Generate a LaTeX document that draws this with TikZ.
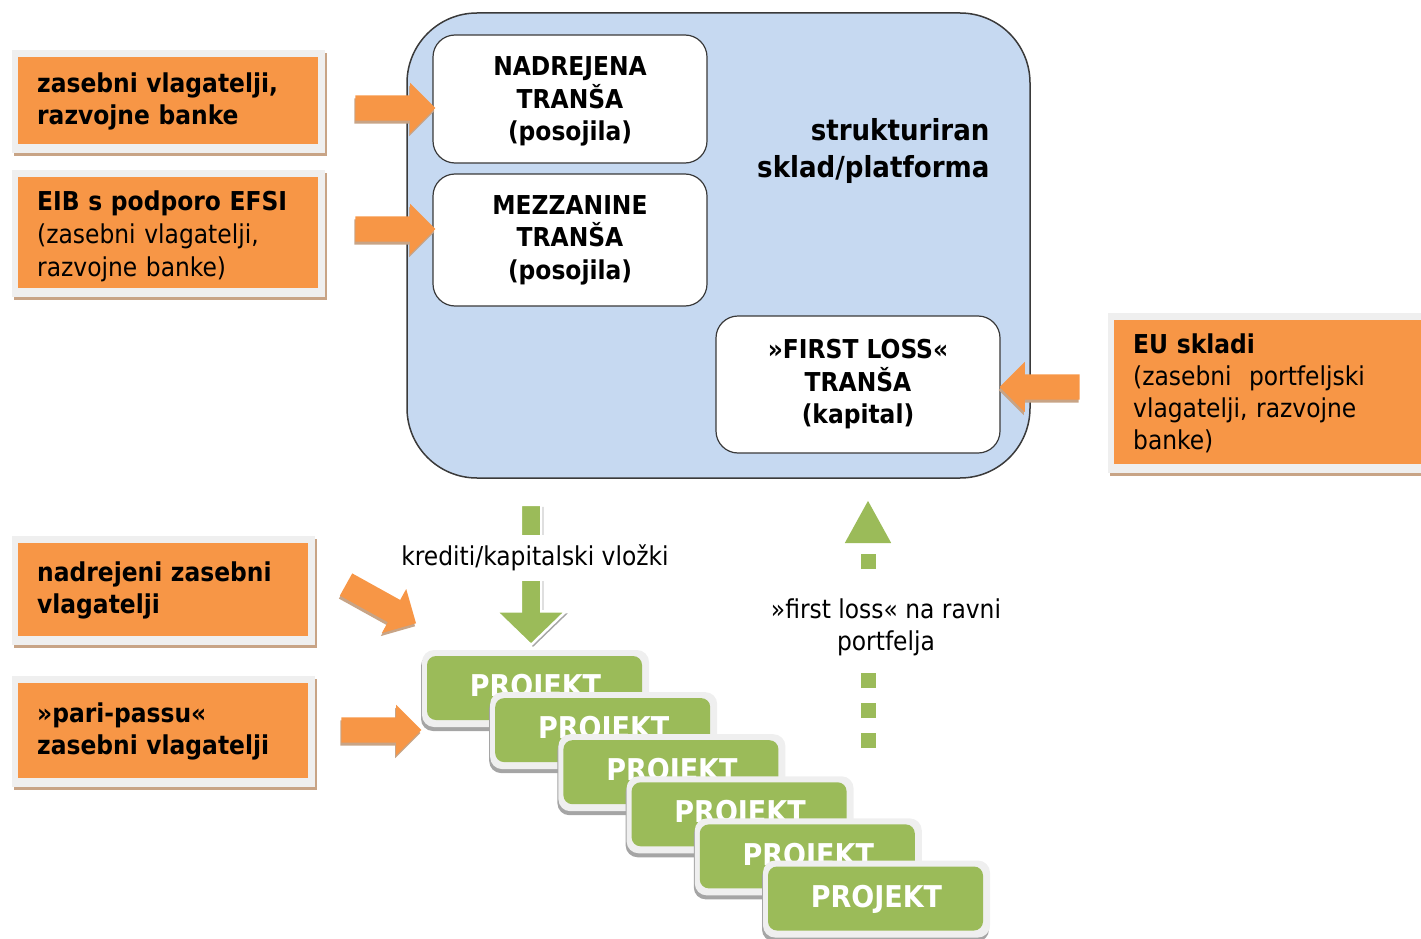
\documentclass[tikz,border=0pt]{standalone}
\usepackage{fontspec}
\setmainfont{DejaVuSansCondensed}[Extension=.ttf, BoldFont=DejaVuSansCondensed-Bold]
\usetikzlibrary{shapes.arrows,shadows,arrows.meta}
\definecolor{orC}{HTML}{F79646}
\definecolor{frameC}{HTML}{EFEFEF}
\definecolor{tanC}{HTML}{C8A486}
\definecolor{blueC}{HTML}{C6D9F1}
\definecolor{greenC}{HTML}{9BBB59}
\definecolor{pshadowC}{HTML}{A5A5A5}
\definecolor{edgeC}{HTML}{3A3A3A}
\newcommand\fsz[2]{\fontsize{#1}{#2}\selectfont}
\tikzset{
  obox/.style={rectangle, fill=frameC, inner xsep=25pt, inner ysep=0pt, anchor=north west,
    align=left, font=\fsz{26}{32},
    drop shadow={opacity=1, fill=tanC, shadow xshift=2pt, shadow yshift=-3pt},
    path picture={\fill[orC] ([shift={(6pt,9pt)}]path picture bounding box.south west)
      rectangle ([shift={(-7pt,-7pt)}]path picture bounding box.north east);}},
  tbox/.style={rectangle, rounded corners=22pt, fill=white, draw=edgeC, line width=1.2pt,
    align=center, font=\bfseries\fsz{26}{32.5}},
  bigbox/.style={rectangle, rounded corners=70pt, fill=blueC, draw=edgeC, line width=1.5pt},
  pbox/.style={rectangle, rounded corners=12pt, fill=frameC, minimum width=227pt, minimum height=77pt,
    text=white, font=\bfseries\fsz{30}{36},
    drop shadow={opacity=1, fill=pshadowC, shadow xshift=-1pt, shadow yshift=-4pt},
    path picture={\fill[greenC, rounded corners=9pt] ([shift={(5pt,7pt)}]path picture bounding box.south west)
      rectangle ([shift={(-7pt,-6pt)}]path picture bounding box.north east);}},
  oarrow/.style={single arrow, fill=orC, inner xsep=0pt, inner ysep=12.5pt, minimum height=80pt,
    single arrow head extend=12.5pt, single arrow tip angle=90,
    drop shadow={opacity=1, fill=tanC, shadow xshift=-1pt, shadow yshift=-3pt}},
  garrow/.style={single arrow, fill=greenC, draw=white, line width=2.5pt, inner xsep=0pt, inner ysep=9pt,
    minimum height=140pt, single arrow head extend=24.5pt, single arrow tip angle=92,
    drop shadow={opacity=1, fill=pshadowC, shadow xshift=2pt, shadow yshift=-2pt}},
  dots/.style={greenC, line width=15pt, dash pattern=on 15pt off 15pt},
}
\begin{document}
\begin{tikzpicture}[x=1pt,y=-1pt]
\useasboundingbox (0,0) rectangle (1421,939);

% platform
\node[bigbox, minimum width=623pt, minimum height=465pt] (plat) at (718.5,245.5) {};
\node[tbox, minimum width=274pt, minimum height=128pt] (nad) at (570,99) {\rule{0pt}{24pt}NADREJENA\\TRANŠA\\(posojila)};
\node[tbox, minimum width=274pt, minimum height=132pt] (mez) at (570,240) {MEZZANINE\\TRANŠA\\(posojila)};
\node[tbox, minimum width=284pt, minimum height=137pt] (fl) at (858,384.5) {»FIRST LOSS«\\TRANŠA\\(kapital)};
\node[anchor=east, align=right, font=\bfseries\fsz{29}{36}] (lbl) at (993,151) {strukturiran\\sklad/platforma};

% orange source boxes
\node[obox, minimum width=313pt, minimum height=103pt, text width=263pt] (b1) at (12,50)
  {\bfseries zasebni vlagatelji,\\razvojne banke};
\node[obox, minimum width=313pt, minimum height=127pt, text width=263pt, font=\fsz{26}{33}] (b2) at (12,170)
  {\rule{0pt}{26pt}\textbf{EIB s podporo EFSI}\\(zasebni vlagatelji,\\razvojne banke)};
\node[obox, minimum width=303pt, minimum height=109pt, text width=253pt] (b3) at (12,536)
  {\bfseries nadrejeni zasebni\\vlagatelji};
\node[obox, minimum width=303pt, minimum height=111pt, text width=253pt] (b4) at (12,676)
  {\bfseries »pari-passu«\\zasebni vlagatelji};
\node[obox, minimum width=330pt, minimum height=160pt, text width=280pt] (br) at (1108,313)
  {\textbf{EU skladi}\\(zasebni\ \ portfeljski\\vlagatelji, razvojne\\banke)};

% orange block arrows
\node[oarrow] (a1) at (389,108) {};
\node[oarrow] (a2) at (389,229) {};
\node[oarrow, rotate=180] (ar) at (1046,387) {};
\node[oarrow, rotate=-29] (ad) at (375.5,600.8) {};
\node[oarrow] (a4) at (375,730) {};

% projects
\foreach \i in {0,...,5}
  \node[pbox] (p\i) at ({535.5+68.2*\i},{688.5+42.1*\i}) {PROJEKT};

% credits arrow
\node[garrow, rotate=-90] (ga) at (531,570) {};
\node[fill=white, inner xsep=2pt, inner ysep=10pt, font=\fsz{26}{32}] (kt) at (535,558) {krediti/kapitalski vložki};

% first loss dotted arrow
\coordinate (fb) at (868,748);
\coordinate (fm1) at (868,665);
\coordinate (fm2) at (868,569);
\coordinate (ft) at (868,500);
\draw[dots] (fb) -- (fm1);
\draw[dots, -{Triangle[width=43pt,length=43pt]}] (fm2) -- (ft);
\node[align=center, font=\fsz{26}{32}] (flt) at (886,627) {»first loss« na ravni\\portfelja};
\end{tikzpicture}
\end{document}
